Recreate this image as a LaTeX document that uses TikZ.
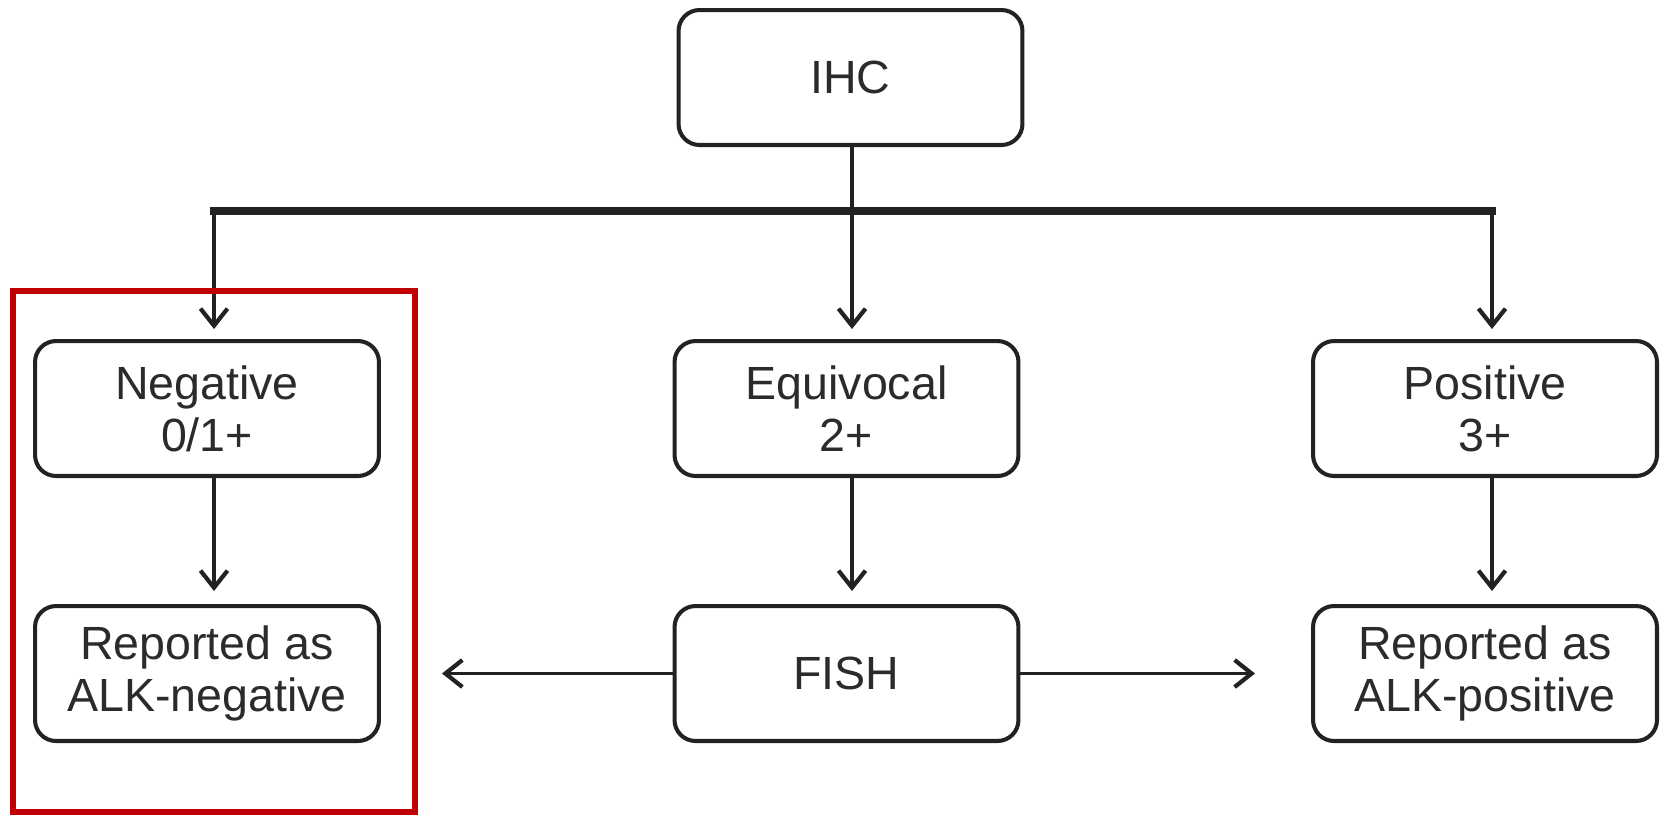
\documentclass[tikz,border=0pt]{standalone}
\usepackage{fontspec}
\setmainfont{Liberation Sans}
\usetikzlibrary{arrows.meta}
\definecolor{ink}{HTML}{222222}
\definecolor{txt}{HTML}{2B2B2B}
\definecolor{redframe}{RGB}{192,0,0}
\begin{document}
\begin{tikzpicture}[x=0.02cm,y=-0.02cm,
  box/.style={draw=ink, line width=2.3pt, rounded corners=0.42cm, fill=white,
    minimum width=6.88cm, minimum height=2.7cm, align=center, text=txt,
    font=\fontsize{26.5}{29.5}\selectfont, inner sep=0pt},
  conn/.style={draw=ink, line width=2.2pt},
  arr/.style={conn, -{Straight Barb[length=0.34cm,width=0.54cm,line width=2.4pt]}},
  bar/.style={draw=ink, line width=5pt}]
\useasboundingbox[fill=white] (0,0) rectangle (1660,816);
\node[box] (ihc) at (850.5,77.5) {IHC};
\node[box] (neg) at (207,408.5) {Negative\\0/1+};
\node[box] (equ) at (846.5,408.5) {Equivocal\\2+};
\node[box] (pos) at (1485,408.5) {Positive\\3+};
\node[box] (rneg) at (207,673.5) {Reported as\\ALK-negative};
\node[box] (fish) at (846.5,673.5) {FISH};
\node[box] (rpos) at (1485,673.5) {Reported as\\ALK-positive};
\coordinate (barL) at (214,211);
\coordinate (barM) at (852,211);
\coordinate (barR) at (1492,211);
\draw[conn] (barM |- ihc.south) -- (barM);
\draw[bar, line cap=rect] (barL) -- (barR);
\draw[arr, shorten >=0.2cm] (barL) -- (barL |- neg.north);
\draw[arr, shorten >=0.2cm] (barM) -- (barM |- equ.north);
\draw[arr, shorten >=0.2cm] (barR) -- (barR |- pos.north);
\draw[arr, shorten >=0.26cm] (barL |- neg.south) -- (barL |- rneg.north);
\draw[arr, shorten >=0.26cm] (barM |- equ.south) -- (barM |- fish.north);
\draw[arr, shorten >=0.26cm] (barR |- pos.south) -- (barR |- rpos.north);
\draw[arr, shorten >=1.22cm] (fish.west) -- (rneg.east);
\draw[arr, shorten >=1.12cm] (fish.east) -- (rpos.west);
\draw[draw=redframe, line width=3pt] (13,291) rectangle (415,812);
\end{tikzpicture}
\end{document}
